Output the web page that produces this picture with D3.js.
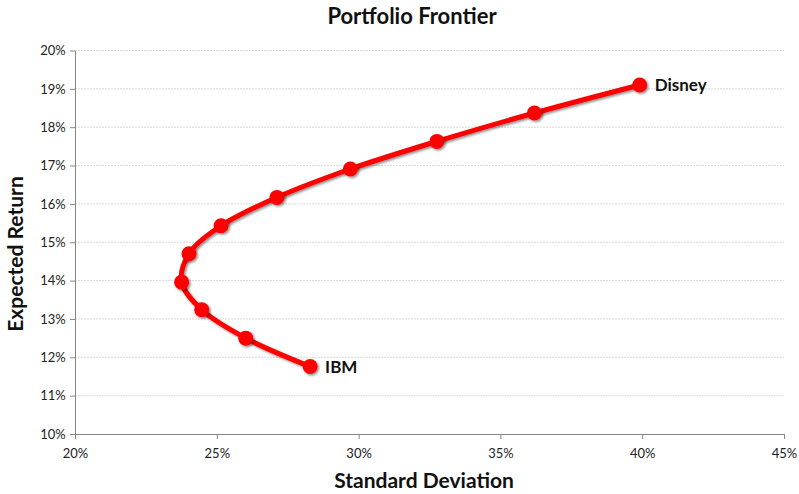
<!DOCTYPE html>
<html><head><meta charset="utf-8">
<script src="https://cdn.jsdelivr.net/npm/d3@7"></script>
<style>body{margin:0;background:#fff}svg{display:block;font-family:Lato,"Open Sans",sans-serif}</style>
</head><body><svg id="c" width="799" height="494"></svg>
<script>
const stdDev = [28.29, 26.02, 24.47, 23.76, 24.02, 25.15, 27.12, 29.71, 32.76, 36.20, 39.91];
const expRet = [11.76, 12.50, 13.24, 13.96, 14.70, 15.43, 16.17, 16.91, 17.63, 18.37, 19.10];
const pointLabels = ["IBM", "", "", "", "", "", "", "", "", "", "Disney"];
const xTicks = [20, 25, 30, 35, 40, 45];
const yTicks = [10, 11, 12, 13, 14, 15, 16, 17, 18, 19, 20];

const svg = d3.select("#c");
const m = {l:75};
const x = d3.scaleLinear().domain([20,45]).range([m.l, 784]);
const y = d3.scaleLinear().domain([10,20]).range([434, 50.5]);

const defs = svg.append("defs");
const f = defs.append("filter").attr("id","sh").attr("x","-50%").attr("y","-50%").attr("width","200%").attr("height","200%");
f.append("feDropShadow").attr("dx",1.5).attr("dy",1.5).attr("stdDeviation",1.2).attr("flood-color","#000").attr("flood-opacity",0.45);

svg.append("g").selectAll("line").data(yTicks.slice(1)).join("line")
  .attr("x1", m.l).attr("x2", 784).attr("y1", d=>y(d)).attr("y2", d=>y(d))
  .attr("stroke","#d9d9d9").attr("stroke-width",1).attr("stroke-dasharray","2,1");

const xa = svg.append("g").attr("transform",`translate(0,${y(10)})`)
  .call(d3.axisBottom(x).tickValues(xTicks).tickFormat(d=>d+"%").tickSize(5).tickSizeOuter(0));
const ya = svg.append("g").attr("transform",`translate(${m.l},0)`)
  .call(d3.axisLeft(y).tickValues(yTicks).tickFormat(d=>d+"%").tickSize(5).tickSizeOuter(0));
[xa,ya].forEach(a=>{
  a.select(".domain").attr("stroke","#868686");
  a.selectAll(".tick line").attr("stroke","#868686");
  a.selectAll("text").attr("font-size",13).attr("fill","#222").attr("font-family","Lato,sans-serif");
});
xa.selectAll("text").attr("dy","1.2em");
ya.selectAll("text").attr("dx","-0.1em");

const pts = stdDev.map((s,i)=>({s, r:expRet[i], lab:pointLabels[i]}));
const line = d3.line().x(d=>x(d.s)).y(d=>y(d.r)).curve(d3.curveCatmullRom.alpha(0.5));
svg.append("path").datum(pts).attr("d",line).attr("fill","none")
  .attr("stroke","#ff0000").attr("stroke-width",5).attr("filter","url(#sh)");
svg.append("g").selectAll("circle").data(pts).join("circle")
  .attr("cx",d=>x(d.s)).attr("cy",d=>y(d.r)).attr("r",7.5)
  .attr("fill","#ff0000").attr("filter","url(#sh)");
svg.append("g").selectAll("text").data(pts.filter(d=>d.lab)).join("text")
  .attr("x",d=>x(d.s)+15).attr("y",d=>y(d.r)+6)
  .attr("font-size",17).attr("font-weight","bold").attr("fill","#111").text(d=>d.lab);

svg.append("text").attr("x",412).attr("y",24).attr("text-anchor","middle")
  .attr("font-size",22).attr("font-weight","bold").attr("fill","#111").text("Portfolio Frontier");
svg.append("text").attr("x",424).attr("y",488).attr("text-anchor","middle")
  .attr("font-size",21).attr("font-weight","bold").attr("fill","#111").text("Standard Deviation");
svg.append("text").attr("transform","translate(23,254) rotate(-90)").attr("text-anchor","middle")
  .attr("font-size",21).attr("font-weight","bold").attr("fill","#111").text("Expected Return");
</script></body></html>
